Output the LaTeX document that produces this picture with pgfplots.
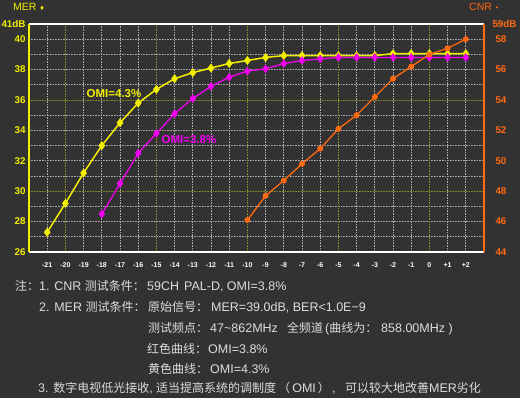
\documentclass[border=0pt]{standalone}
\usepackage{pgfplots}
\pgfplotsset{compat=1.18}
\usepackage{fontspec}
\setmainfont{Liberation Sans}
\newfontfamily\cjk{Noto Sans CJK SC}
\newfontfamily\dejavu{DejaVu Sans}
\definecolor{bgc}{HTML}{323232}
\definecolor{cyel}{HTML}{F2EE00}
\definecolor{cmag}{HTML}{F000F0}
\definecolor{cora}{HTML}{FF6A10}
\definecolor{gw}{HTML}{A8A8A8}
\definecolor{go}{HTML}{8C8C28}
\definecolor{tc}{HTML}{DCDCDC}
\newcommand\zh[1]{{\cjk\fontsize{12}{14}\selectfont #1}}
\newcommand\nf{\fontsize{12.5}{14}\selectfont}
\begin{document}
\begin{tikzpicture}
\fill[bgc] (0pt,0pt) rectangle (520pt,398pt);
\path[use as bounding box] (0pt,0pt) rectangle (520pt,398pt);
\begin{axis}[
  at={(29pt,146pt)}, anchor=south west,
  scale only axis, width=455pt, height=228pt,
  xmin=-22, xmax=3, ymin=26, ymax=41,
  axis line style={draw=none}, major tick length=0pt, minor tick length=0pt,
  /pgf/number format/assume math mode=true,
  xtick={-21,-20,...,2},
  xticklabels={-21,-20,-19,-18,-17,-16,-15,-14,-13,-12,-11,-10,-9,-8,-7,-6,-5,-4,-3,-2,-1,0,+1,+2},
  xticklabel style={font=\bfseries\fontsize{7}{8}\selectfont, text=white, yshift=-7pt},
  ytick={26,28,30,32,34,36,38,40,41},
  yticklabels={26,28,30,32,34,36,38,40,41dB},
  yticklabel style={font=\bfseries\fontsize{9.8}{10}\selectfont, text=cyel},
  clip=false,
]
\pgfplotsinvokeforeach{-21,-19,-18,-17,-16,-14,-13,-12,-11,-9,-8,-7,-6,-4,-3,-2,-1,1,2}{
  \draw[gw, line width=0.8pt, dash pattern=on 0.8pt off 0.8pt] (axis cs:#1,26) -- (axis cs:#1,41);}
\pgfplotsinvokeforeach{27,28,29,31,32,33,34,35,37,38,39,40}{
  \draw[gw, line width=0.8pt, dash pattern=on 0.8pt off 0.8pt] (axis cs:-22,#1) -- (axis cs:3,#1);}
\pgfplotsinvokeforeach{-20,-15,-10,-5,0}{
  \draw[go, line width=0.8pt, dash pattern=on 0.8pt off 0.8pt] (axis cs:#1,26) -- (axis cs:#1,41);}
\pgfplotsinvokeforeach{30,36}{
  \draw[go, line width=0.8pt, dash pattern=on 0.8pt off 0.8pt] (axis cs:-22,#1) -- (axis cs:3,#1);}
\draw[white, line width=1.5pt] (rel axis cs:0,1) -- (rel axis cs:1,1);
\draw[white, line width=1.5pt] (rel axis cs:0,0) -- (rel axis cs:1,0);
\draw[cyel, line width=2pt] (rel axis cs:0,0) -- (rel axis cs:0,1);
\addplot[cyel, line width=1.5pt, mark=diamond*, mark size=3.3pt] coordinates {
(-21,27.3) (-20,29.2) (-19,31.2) (-18,33.0) (-17,34.5) (-16,35.8) (-15,36.7) (-14,37.4)
(-13,37.8) (-12,38.1) (-11,38.4) (-10,38.6) (-9,38.8) (-8,38.92) (-7,38.92) (-6,38.92)
(-5,38.92) (-4,38.92) (-3,38.92) (-2,39.05) (-1,39.05) (0,39.05) (1,39.05) (2,39.05)};
\addplot[cmag, line width=1.3pt, mark=diamond*, mark size=3.3pt] coordinates {
(-18,28.5) (-17,30.5) (-16,32.5) (-15,33.8) (-14,35.1) (-13,36.1) (-12,36.9) (-11,37.5)
(-10,37.9) (-9,38.05) (-8,38.4) (-7,38.6) (-6,38.7) (-5,38.8) (-4,38.8) (-3,38.8)
(-2,38.8) (-1,38.8) (0,38.8) (1,38.8) (2,38.8)};
\node[text=cyel, font=\bfseries\fontsize{11.5}{12}\selectfont] at (axis cs:-17.33,36.44) {OMI=4.3\%};
\node[text=cmag, font=\bfseries\fontsize{11.5}{12}\selectfont] at (axis cs:-13.21,33.41) {OMI=3.8\%};
\end{axis}
\begin{axis}[
  at={(29pt,146pt)}, anchor=south west,
  scale only axis, width=455pt, height=228pt,
  xmin=-22, xmax=3, ymin=44, ymax=59,
  axis line style={draw=none}, major tick length=0pt, minor tick length=0pt,
  /pgf/number format/assume math mode=true,
  xtick=\empty,
  ytick={44,46,48,50,52,54,56,58,59},
  yticklabels={44,46,48,50,52,54,56,58,\hspace*{-3pt}59dB},
  yticklabel pos=right,
  yticklabel style={font=\bfseries\fontsize{9.8}{10}\selectfont, text=cora, xshift=8pt},
  clip=false,
]
\draw[cora, line width=2pt] (rel axis cs:1,0) -- (rel axis cs:1,1);
\addplot[cora, line width=1.3pt, mark=*, mark size=2.3pt] coordinates {
(-10,46.1) (-9,47.7) (-8,48.7) (-7,49.8) (-6,50.8) (-5,52.1) (-4,53.0) (-3,54.2)
(-2,55.4) (-1,56.2) (0,57.0) (1,57.4) (2,58.0)};
\end{axis}
\node[anchor=base west, text=cyel, inner sep=0pt, font=\fontsize{10.5}{11}\selectfont] at (13pt,387.5pt) {MER {\dejavu\fontsize{6}{6}\selectfont ♦}};
\node[anchor=base west, text=cora, inner sep=0pt, font=\fontsize{10.5}{11}\selectfont] at (469pt,387.5pt) {CNR {\dejavu\fontsize{7}{7}\selectfont •}};
\begin{scope}[every node/.style={anchor=base west, inner sep=0pt, text=tc, font=\nf}]
\node at (15pt,107pt) {\zh{注：}};
\node at (39pt,107pt) {1. CNR \zh{测试条件：}};
\node at (147pt,107pt) {59CH\hspace{5pt}PAL-D, OMI=3.8\%};
\node at (39pt,86.3pt) {2. MER \zh{测试条件：}};
\node at (148pt,86.3pt) {\zh{原始信号：}};
\node at (211pt,86.3pt) {MER=39.0dB, BER<1.0E−9};
\node at (148pt,65.3pt) {\zh{测试频点：}};
\node at (210pt,65.3pt) {47\textasciitilde 862MHz};
\node at (287pt,65.3pt) {\zh{全频道}};
\node at (325pt,65.3pt) {(\zh{曲线为：}};
\node at (381pt,65.3pt) {858.00MHz )};
\node at (147pt,44.7pt) {\zh{红色曲线：}};
\node at (208pt,44.7pt) {OMI=3.8\%};
\node at (148pt,24.7pt) {\zh{黄色曲线：}};
\node at (210pt,24.7pt) {OMI=4.3\%};
\node at (38pt,5.3pt) {3. \zh{数字电视低光接收}, \zh{适当提高系统的调制度}};
\node at (278pt,5.3pt) {\zh{（}\,OMI\,\zh{）}\,,};
\node at (345pt,5.3pt) {\zh{可以较大地改善}MER\zh{劣化}};
\end{scope}
\end{tikzpicture}
\end{document}
